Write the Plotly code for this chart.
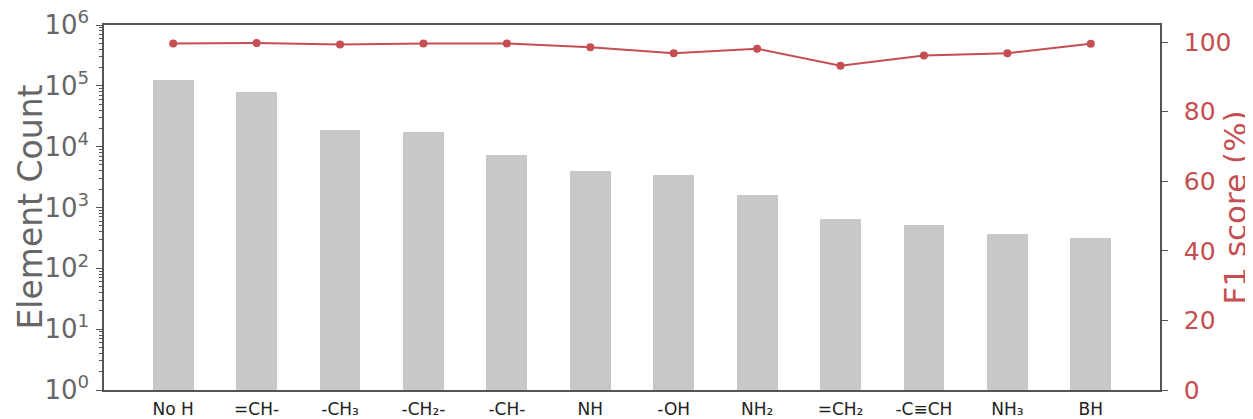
import plotly.graph_objects as go

categories = ["No H", "=CH-", "-CH₃", "-CH₂-", "-CH-", "NH", "-OH", "NH₂", "=CH₂", "-C≡CH", "NH₃", "BH"]
element_count = [125000, 80000, 18800, 17600, 7300, 4000, 3400, 1600, 640, 510, 370, 312]
f1_score = [99.6, 99.7, 99.3, 99.6, 99.6, 98.5, 96.8, 98.1, 93.2, 96.1, 96.8, 99.5]
log_exponents = [0, 1, 2, 3, 4, 5, 6]
f1_ticks = [0, 20, 40, 60, 80, 100]

GRAY_TXT = "#666666"
RED = "#c44e52"
AXIS = "#555555"
FONT = "DejaVu Sans"

major_vals = [10 ** e for e in log_exponents]
major_text = ["10<sup>%d</sup>" % e for e in log_exponents]
minor_vals = [m * 10 ** e for e in log_exponents[:-1] for m in range(2, 10)]

fig = go.Figure()
fig.add_trace(go.Bar(
    x=list(range(len(categories))), y=element_count, width=0.49,
    marker=dict(color="#c8c8c8", line=dict(width=0)),
    yaxis="y", showlegend=False,
))
fig.add_trace(go.Scatter(
    x=list(range(len(categories))), y=f1_score, mode="lines+markers",
    line=dict(color=RED, width=2), marker=dict(color=RED, size=8),
    yaxis="y2", showlegend=False,
))

# page has an 8px body margin: figure occupies (8..1253, 8..419)
fig.update_layout(
    width=1245, height=411,
    margin=dict(l=96, r=93, t=17, b=29),
    plot_bgcolor="white", paper_bgcolor="white",
    font=dict(family=FONT),
    xaxis=dict(
        range=[-0.83, 11.83], tickmode="array",
        tickvals=list(range(len(categories))), ticktext=categories,
        showline=True, linecolor=AXIS, linewidth=1.5, mirror=True,
        ticks="", showgrid=False, zeroline=False, automargin=False,
        ticklabelstandoff=3,
        tickfont=dict(size=17, color="#222222", family=FONT),
    ),
    yaxis=dict(
        type="log", range=[0, 6], tickmode="array",
        tickvals=major_vals, ticktext=major_text,
        showline=True, linecolor=AXIS, linewidth=1.5,
        ticks="outside", ticklen=6, tickcolor=AXIS, tickwidth=1.2,
        minor=dict(tickmode="array", tickvals=minor_vals, ticks="outside", ticklen=3,
                   tickcolor=AXIS, tickwidth=0.8, showgrid=False),
        showgrid=False, zeroline=False, automargin=False,
        ticklabeloverflow="allow", ticklabelstandoff=2,
        tickfont=dict(size=26, color=GRAY_TXT, family=FONT),
    ),
    yaxis2=dict(
        overlaying="y", side="right", range=[0, 104.9],
        tickmode="array", tickvals=f1_ticks,
        showline=True, linecolor=AXIS, linewidth=1.5,
        ticks="outside", ticklen=6, tickcolor=AXIS, tickwidth=1.2,
        ticklabelstandoff=11, ticklabeloverflow="allow",
        showgrid=False, zeroline=False, automargin=False,
        tickfont=dict(size=25, color=RED, family=FONT),
    ),
    bargap=0,
    annotations=[
        dict(text="Element Count", xref="paper", yref="paper", x=-0.070, y=0.5,
             xanchor="center", yanchor="middle", textangle=-90, showarrow=False,
             font=dict(size=33, color=GRAY_TXT, family=FONT)),
        dict(text="F1 score (%)", xref="paper", yref="paper", x=(1245 - 96) / 1056, y=0.5,
             xanchor="right", yanchor="middle", textangle=-90, showarrow=False,
             borderpad=0,
             font=dict(size=31, color=RED, family=FONT)),
    ],
)

fig.write_html("out.html")
